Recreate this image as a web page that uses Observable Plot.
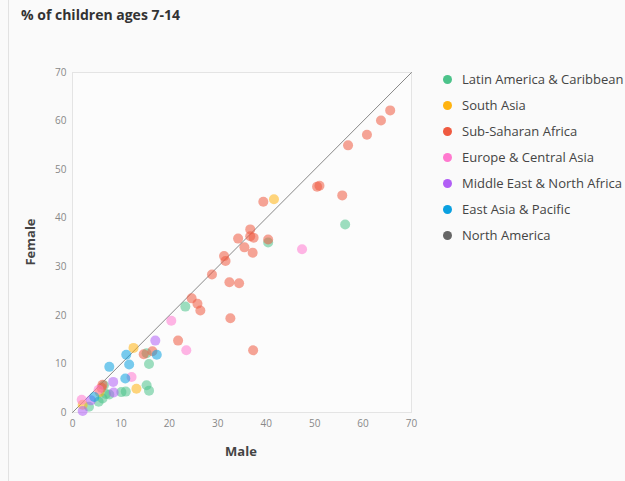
<!DOCTYPE html>
<html>
<head>
<meta charset="utf-8">
<script src="https://cdn.jsdelivr.net/npm/d3@7"></script>
<script src="https://cdn.jsdelivr.net/npm/@observablehq/plot@0.6"></script>
<style>
  html, body { margin: 0; padding: 0; background: #fafafa; }
  body { width: 625px; height: 481px; position: relative; overflow: hidden; font-family: "Open Sans", sans-serif; }
  #edge { position: absolute; left: 8px; top: 0; width: 1px; height: 481px; background: #e2e2e2; }
  #title { position: absolute; left: 21px; top: 5px; font-size: 14px; font-weight: 700; color: #333; }
  #chart { position: absolute; left: 0; top: 0; }
  .axislabel { position: absolute; font-size: 13px; font-weight: 700; color: #444; }
  #xlabel { left: 241px; top: 451px; transform: translate(-50%, -50%); }
  #ylabel { left: 30px; top: 242px; transform: translate(-50%, -50%) rotate(-90deg); }
  #legend { position: absolute; left: 441px; top: 66px; }
  .item { height: 26px; display: flex; align-items: center; font-size: 13px; color: #444; white-space: nowrap; }
  .sw { width: 9px; height: 9px; border-radius: 50%; margin-right: 10px; margin-left: 2px; }
</style>
</head>
<body>
<div id="edge"></div>
<div id="title">% of children ages 7-14</div>
<div id="chart"></div>
<div class="axislabel" id="xlabel">Male</div>
<div class="axislabel" id="ylabel">Female</div>
<div id="legend"></div>
<script>
const regions = [
  "Latin America & Caribbean",
  "South Asia",
  "Sub-Saharan Africa",
  "Europe & Central Asia",
  "Middle East & North Africa",
  "East Asia & Pacific",
  "North America"
];
const colors = ["#4cc38a", "#ffb310", "#ef5a40", "#ff79cf", "#b15ef5", "#0aa0e0", "#666666"];
const ticks = [0, 10, 20, 30, 40, 50, 60, 70];
const diagonal = [0, 70];

// [male, female] pairs per region
const latinAmerica = [[56.3,38.7],[40.4,35.0],[23.3,21.8],[15.3,12.2],[15.8,10.0],[15.3,5.6],[15.8,4.5],[11.0,4.3],[10.1,4.2],[6.5,5.6],[6.9,3.8],[7.6,3.7],[6.2,2.9],[5.4,2.2],[3.4,1.2]];
const southAsia = [[41.6,43.9],[12.6,13.3],[13.2,4.9],[5.6,4.2],[2.1,1.6]];
const subSaharanAfrica = [[65.6,62.2],[63.7,60.1],[60.8,57.2],[56.9,55.0],[50.5,46.5],[51.0,46.7],[55.7,44.7],[39.4,43.4],[36.7,37.7],[34.2,35.8],[36.7,36.3],[37.4,36.0],[40.4,35.6],[35.5,34.0],[37.2,32.9],[31.3,32.2],[31.6,31.2],[28.8,28.4],[32.4,26.8],[34.4,26.6],[24.6,23.5],[25.8,22.4],[26.4,21.0],[32.6,19.4],[21.8,14.8],[37.3,12.8],[14.7,12.0],[16.5,12.6],[6.2,5.7],[6.0,5.1]];
const europeCentralAsia = [[47.4,33.6],[20.4,18.9],[23.5,12.8],[12.2,7.3],[5.4,4.7],[1.9,2.6]];
const middleEastNorthAfrica = [[17.1,14.8],[8.4,6.3],[8.5,4.1],[3.8,2.5],[2.1,0.3]];
const eastAsiaPacific = [[17.4,11.9],[11.1,11.9],[11.7,9.9],[7.6,9.4],[10.9,7.0],[4.5,3.2]];
const northAmerica = [];

const series = [latinAmerica, southAsia, subSaharanAfrica, europeCentralAsia, middleEastNorthAfrica, eastAsiaPacific, northAmerica];
const points = series.flatMap((arr, i) => arr.map(([male, female]) => ({region: regions[i], male, female})));

const plot = Plot.plot({
  width: 430,
  height: 481,
  marginTop: 72,
  marginLeft: 72,
  marginRight: 19,
  marginBottom: 69,
  style: { background: "transparent", fontFamily: "Open Sans", fontSize: "10px" },
  x: { domain: [0, 70] },
  y: { domain: [0, 70] },
  color: { domain: regions, range: colors },
  marks: [
    Plot.frame({ fill: "#fcfcfc", stroke: "#e4e4e4" }),
    Plot.axisX({ ticks, tickSize: 0, tickPadding: 7, fill: "#888", label: null }),
    Plot.axisY({ ticks, tickSize: 0, tickPadding: 6, fill: "#888", label: null }),
    Plot.line(diagonal, { x: d => d, y: d => d, stroke: "#888", strokeWidth: 1 }),
    Plot.dot(points, { x: "male", y: "female", fill: "region", r: 5, fillOpacity: 0.55, stroke: "none" })
  ]
});
document.getElementById("chart").appendChild(plot);

const legend = document.getElementById("legend");
regions.forEach((r, i) => {
  const item = document.createElement("div");
  item.className = "item";
  const sw = document.createElement("span");
  sw.className = "sw";
  sw.style.background = colors[i];
  item.appendChild(sw);
  item.appendChild(document.createTextNode(r));
  legend.appendChild(item);
});
</script>
</body>
</html>
